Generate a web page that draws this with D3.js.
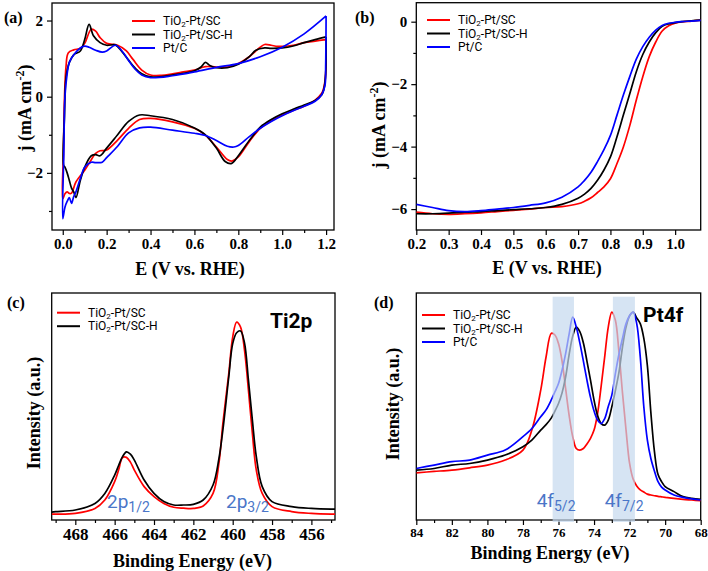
<!DOCTYPE html>
<html>
<head>
<meta charset="utf-8">
<script src="https://cdn.jsdelivr.net/npm/d3@7"></script>
<style>
  body { margin: 0; background: #fff; }
  svg { display: block; }
  .tick text { font-family: "Liberation Serif", "Times New Roman", serif; font-weight: bold; fill: #000; }
</style>
</head>
<body>
<div id="chart"></div>
<script>
// series names and colours
const seriesNames = ["TiO2-Pt/SC", "TiO2-Pt/SC-H", "Pt/C"];
const seriesColors = ["#ff0000", "#000000", "#0000ff"];

// (a) CV loops, [E, j] in scan order (cathodic 1.2 -> 0, then anodic 0 -> 1.2)
const cvRed = [[1.2,1.5],[1.198,0.6],[1.19,0.25],[1.18,0.09],[1.15,-0.09],[1.1,-0.25],[1.05,-0.36],[1.0,-0.48],[0.95,-0.63],[0.9,-0.83],[0.85,-1.18],[0.8,-1.58],[0.77,-1.69],[0.75,-1.65],[0.7,-1.32],[0.65,-1.01],[0.6,-0.83],[0.5,-0.66],[0.4,-0.57],[0.35,-0.6],[0.3,-0.83],[0.25,-1.14],[0.2,-1.4],[0.17,-1.42],[0.15,-1.49],[0.12,-1.75],[0.1,-1.93],[0.06,-2.24],[0.04,-2.53],[0.03,-2.54],[0.02,-2.5],[0.01,-2.55],[0.0,-2.68],
  [0.003,-1.5],[0.008,0],[0.015,0.8],[0.025,1.15],[0.05,1.23],[0.08,1.27],[0.1,1.4],[0.13,1.77],[0.15,1.72],[0.17,1.55],[0.2,1.4],[0.25,1.35],[0.29,1.2],[0.32,0.98],[0.36,0.7],[0.4,0.57],[0.45,0.56],[0.5,0.6],[0.55,0.65],[0.6,0.7],[0.65,0.79],[0.7,0.78],[0.75,0.78],[0.8,0.87],[0.85,1.05],[0.9,1.3],[0.92,1.37],[0.95,1.35],[0.98,1.32],[1.05,1.35],[1.1,1.42],[1.15,1.46],[1.2,1.5]];
const cvBlack = [[1.2,1.57],[1.198,0.6],[1.19,0.2],[1.18,0.05],[1.15,-0.1],[1.1,-0.22],[1.05,-0.33],[1.0,-0.45],[0.95,-0.6],[0.9,-0.8],[0.85,-1.15],[0.8,-1.55],[0.77,-1.75],[0.74,-1.7],[0.7,-1.35],[0.65,-1.0],[0.6,-0.82],[0.5,-0.6],[0.4,-0.5],[0.35,-0.48],[0.3,-0.65],[0.25,-1.0],[0.2,-1.35],[0.17,-1.55],[0.15,-1.52],[0.13,-1.55],[0.1,-1.85],[0.08,-2.2],[0.06,-2.65],[0.05,-2.5],[0.04,-2.4],[0.03,-2.2],[0.02,-2.0],[0.01,-1.85],[0.004,-1.8],
  [0.008,-0.5],[0.015,0.5],[0.03,0.9],[0.05,1.1],[0.08,1.2],[0.1,1.5],[0.12,1.9],[0.14,1.6],[0.17,1.42],[0.2,1.35],[0.24,1.36],[0.27,1.18],[0.3,0.96],[0.33,0.75],[0.36,0.6],[0.4,0.52],[0.5,0.57],[0.6,0.68],[0.63,0.78],[0.65,0.9],[0.67,0.82],[0.7,0.76],[0.75,0.76],[0.8,0.85],[0.85,1.05],[0.88,1.22],[0.92,1.28],[0.95,1.27],[1.0,1.28],[1.05,1.33],[1.1,1.42],[1.15,1.5],[1.2,1.57]];
const cvBlue = [[1.2,2.12],[1.198,0.8],[1.195,0.3],[1.18,0.05],[1.15,-0.12],[1.1,-0.25],[1.05,-0.37],[1.0,-0.5],[0.95,-0.65],[0.9,-0.83],[0.85,-1.05],[0.8,-1.28],[0.78,-1.32],[0.75,-1.3],[0.7,-1.15],[0.65,-1.02],[0.6,-0.96],[0.5,-0.88],[0.4,-0.8],[0.35,-0.82],[0.3,-0.95],[0.25,-1.3],[0.2,-1.6],[0.18,-1.72],[0.15,-1.73],[0.13,-1.72],[0.1,-1.85],[0.08,-2.15],[0.06,-2.5],[0.05,-2.62],[0.04,-2.8],[0.03,-2.65],[0.02,-2.75],[0.01,-2.9],[0.0,-3.2],
  [0.005,-1.5],[0.01,0],[0.02,0.6],[0.03,0.9],[0.05,1.1],[0.08,1.28],[0.1,1.33],[0.12,1.3],[0.15,1.22],[0.18,1.17],[0.2,1.2],[0.24,1.35],[0.27,1.2],[0.3,0.95],[0.33,0.72],[0.36,0.57],[0.4,0.5],[0.5,0.55],[0.6,0.65],[0.7,0.77],[0.8,0.87],[0.9,1.05],[1.0,1.3],[1.1,1.65],[1.2,2.12]];

// (b) LSV
const lsvE = [0.2,0.25,0.3,0.35,0.4,0.45,0.5,0.55,0.6,0.65,0.7,0.72,0.74,0.76,0.78,0.8,0.82,0.84,0.86,0.88,0.9,0.92,0.94,0.96,0.98,1.0,1.02,1.05,1.08];
const lsvRed = [-6.1,-6.15,-6.17,-6.15,-6.12,-6.08,-6.04,-6.0,-5.95,-5.92,-5.83,-5.75,-5.64,-5.47,-5.29,-5.03,-4.55,-4.01,-3.32,-2.51,-1.76,-1.12,-0.65,-0.3,-0.13,-0.05,-0.01,0.02,0.05];
const lsvBlack = [-6.15,-6.15,-6.13,-6.1,-6.08,-6.05,-6.02,-5.99,-5.95,-5.85,-5.65,-5.52,-5.34,-5.08,-4.75,-4.33,-3.69,-2.99,-2.3,-1.6,-1.05,-0.65,-0.35,-0.15,-0.07,-0.03,0.0,0.03,0.05];
const lsvBlue = [-5.85,-5.95,-6.05,-6.08,-6.05,-6.0,-5.95,-5.88,-5.8,-5.62,-5.29,-5.08,-4.82,-4.48,-4.1,-3.64,-3.0,-2.35,-1.75,-1.2,-0.8,-0.5,-0.27,-0.12,-0.05,-0.02,0.0,0.02,0.04];

// (c) Ti2p XPS (intensity in arbitrary units)
const tiBE = [469.2,469,468,467,466.5,466,465.8,465.6,465.4,465.2,465,464.5,464,463.5,463,462.5,462,461.5,461,460.7,460.5,460.2,460,459.8,459.6,459.4,459.2,459,458.8,458.5,458,457,456,455,454.8];
const tiRed = [2.6,2.6,2.9,5.1,8.8,16.9,22,27.5,27.6,25.5,22,14.7,10.3,7.3,5.6,5.2,5.1,6.2,11.7,25,42.5,64.5,80.6,87.2,85,74.8,57.2,38.1,22,11.7,5.9,3.7,2.9,2.6,2.6];
const tiBlack = [3.5,3.7,4.4,7.3,11.7,19.8,24,27.9,30,29,26.4,17.6,11.7,8.1,6.6,6.6,6.9,8.8,15.4,27,39.6,63,77.7,82.5,83.3,78,61.6,44,27.9,14.7,8.1,5.9,5.1,4.8,4.8];

// (d) Pt4f XPS
const ptBE = [84,83,82,81,80,79,78,77.5,77,76.7,76.4,76.2,76,75.8,75.6,75.4,75.2,75,74.8,74.6,74.4,74.2,74,73.8,73.6,73.4,73.2,73,72.8,72.6,72.4,72.2,72,71.8,71.6,71.4,71.2,71,70.8,70.6,70.4,70.2,70,69.5,69,68.5,68];
const ptRed = [20.8,21.4,22,23,24.2,26.4,30.8,39.6,57.2,71.8,82.3,81.5,77.7,70,58,46,36.7,31.5,30.8,31.5,33.5,36,39.6,47,59,72,85,91.6,88,74,56,39.6,24.9,18,15,13.3,12.3,11.4,11,10.7,10.4,10.2,10,9.5,9.1,8.8,8.5];
const ptBlack = [22,22.7,24.2,24.9,26.4,28.6,32.3,35.2,39.6,42,45,48,51.3,56,63,73,81,85,83,78,70,61.6,52.8,46,42.5,41.8,44,49.9,57,65,76.2,85,90,91.6,89,86.5,80,68,47,30,20,16.9,14.7,12.5,10.3,9.5,9.1];
const ptBlue = [22.7,24.2,25.7,26.4,28.6,30.8,36.7,40.3,45.5,48.5,53,56.5,60.1,66,73.3,82,89.4,85,78,70,61.6,54,48,44,42.5,44.7,50,55,64.5,73,80,86.5,90,91.6,86.5,71.8,49.9,35.2,27,21.5,16.9,14.5,13.2,11,10,9.3,8.8];
const ptBands = [[76.33,75.13],[72.94,71.7]];

const svg = d3.select("#chart").append("svg")
  .attr("width", 708).attr("height", 571)
  .style("background", "#fff");

const serif = "'Liberation Serif','Times New Roman',serif";
const sans = "Roboto,'Liberation Sans',sans-serif";

// frame + axes for one panel
function drawAxes(x, y, o) {
  const g = svg.append("g");
  const [x0, x1] = x.range(), [y0, y1] = y.range();
  const bx = g.append("g").attr("transform", `translate(0,${y0})`)
    .call(d3.axisBottom(x).tickValues(o.xTicks).tickFormat(o.xFmt).tickSize(5).tickSizeOuter(0).tickPadding(3));
  bx.selectAll("text").style("font-size", o.xFont + "px");
  if (o.xMinor) g.append("g").attr("transform", `translate(0,${y0})`)
    .call(d3.axisBottom(x).tickValues(o.xMinor).tickFormat("").tickSize(3).tickSizeOuter(0));
  if (o.yTicks) {
    const ly = g.append("g").attr("transform", `translate(${x0},0)`)
      .call(d3.axisLeft(y).tickValues(o.yTicks).tickFormat(d3.format("d")).tickSize(5).tickSizeOuter(0).tickPadding(4));
    ly.selectAll("text").style("font-size", "15px");
  }
  if (o.yMinor) g.append("g").attr("transform", `translate(${x0},0)`)
    .call(d3.axisLeft(y).tickValues(o.yMinor).tickFormat("").tickSize(3).tickSizeOuter(0));
  g.selectAll(".domain").remove();
  g.selectAll(".tick line").attr("stroke", "#000").attr("stroke-width", 1.2);
  g.append("rect").attr("x", x0).attr("y", y1).attr("width", x1 - x0).attr("height", y0 - y1)
    .attr("fill", "none").attr("stroke", "#000").attr("stroke-width", 1.3);
  return g;
}

function axisTitle(cx, cy, rotate, size) {
  return svg.append("text")
    .attr("transform", `translate(${cx},${cy})` + (rotate ? " rotate(-90)" : ""))
    .attr("text-anchor", "middle")
    .attr("font-family", serif).attr("font-weight", "bold").attr("font-size", size);
}

function jTitle(cx, cy) {
  const t = axisTitle(cx, cy, true, 18);
  t.append("tspan").text("j (mA cm");
  t.append("tspan").attr("dy", -7).attr("font-size", 12).text("-2");
  t.append("tspan").attr("dy", 7).text(")");
}

function panelLabel(text, x, y) {
  svg.append("text").attr("x", x).attr("y", y)
    .attr("font-family", serif).attr("font-weight", "bold").attr("font-size", 16).text(text);
}

function legend(x, y, n) {
  const g = svg.append("g").attr("transform", `translate(${x},${y})`);
  seriesNames.slice(0, n).forEach((name, i) => {
    const row = g.append("g").attr("transform", `translate(0,${i * 13.5})`);
    row.append("line").attr("x1", 0).attr("x2", 23).attr("stroke", seriesColors[i]).attr("stroke-width", 2);
    const t = row.append("text").attr("x", 31).attr("y", 4)
      .attr("font-family", sans).attr("font-size", 12);
    if (name.startsWith("TiO2")) {
      t.append("tspan").text("TiO");
      t.append("tspan").attr("font-size", 8).attr("dy", 2).text("2");
      t.append("tspan").attr("dy", -2).text(name.slice(4));
    } else t.text(name);
  });
}

function clipFor(id, x, y) {
  svg.append("clipPath").attr("id", id).append("rect")
    .attr("x", x.range()[0]).attr("y", y.range()[1])
    .attr("width", x.range()[1] - x.range()[0]).attr("height", y.range()[0] - y.range()[1]);
  return `url(#${id})`;
}

function drawLine(data, x, y, color, clip) {
  svg.append("path").datum(data)
    .attr("clip-path", clip)
    .attr("fill", "none").attr("stroke", color).attr("stroke-width", 1.7)
    .attr("stroke-linejoin", "round")
    .attr("d", d3.line().x(d => x(d[0])).y(d => y(d[1])).curve(d3.curveCatmullRom.alpha(0.5)));
}

function peakLabels(list, yPos) {
  list.forEach(([a, b, px]) => {
    const t = svg.append("text").attr("x", px).attr("y", yPos)
      .attr("font-family", sans).attr("font-size", 19).attr("fill", "#4a76c8");
    t.append("tspan").text(a);
    t.append("tspan").attr("dy", 4).attr("font-size", 14).text(b);
  });
}

// ---------- (a) CV ----------
{
  const x = d3.scaleLinear().domain([-0.049, 1.236]).range([52, 334]);
  const y = d3.scaleLinear().domain([-3.5, 2.46]).range([230, 3]);
  drawAxes(x, y, {
    xTicks: [0, 0.2, 0.4, 0.6, 0.8, 1.0, 1.2], xFmt: d3.format(".1f"), xFont: 15,
    xMinor: [0.1, 0.3, 0.5, 0.7, 0.9, 1.1],
    yTicks: [-2, 0, 2], yMinor: [-3, -1, 1]
  });
  const clip = clipFor("clipA", x, y);
  [cvRed, cvBlack, cvBlue].forEach((s, i) => drawLine(s, x, y, seriesColors[i], clip));
  legend(132, 21, 3);
  axisTitle(190, 275, false, 18).text("E (V vs. RHE)");
  jTitle(31, 108);
  panelLabel("(a)", 4, 23);
}

// ---------- (b) LSV ----------
{
  const x = d3.scaleLinear().domain([0.2, 1.079]).range([416.3, 700.7]);
  const y = d3.scaleLinear().domain([-6.67, 0.608]).range([230, 2.7]);
  drawAxes(x, y, {
    xTicks: d3.range(2, 11).map(d => d / 10), xFmt: d3.format(".1f"), xFont: 15,
    yTicks: [0, -2, -4, -6], yMinor: [-1, -3, -5]
  });
  const clip = clipFor("clipB", x, y);
  [lsvRed, lsvBlack, lsvBlue].forEach((s, i) =>
    drawLine(lsvE.map((e, k) => [e, s[k]]), x, y, seriesColors[i], clip));
  legend(427, 20, 3);
  axisTitle(547, 274, false, 18).text("E (V vs. RHE)");
  jTitle(385, 125);
  panelLabel("(b)", 355, 23);
}

// ---------- (c) Ti2p ----------
{
  const x = d3.scaleLinear().domain([469.2, 454.8]).range([51.7, 335]);
  const y = d3.scaleLinear().domain([0, 100]).range([520, 293]);
  drawAxes(x, y, {
    xTicks: d3.range(468, 455, -2), xFmt: d3.format("d"), xFont: 17,
    xMinor: d3.range(469, 454, -2)
  });
  const clip = clipFor("clipC", x, y);
  [tiRed, tiBlack].forEach((s, i) =>
    drawLine(tiBE.map((e, k) => [e, s[k]]), x, y, seriesColors[i], clip));
  legend(57, 312.7, 2);
  axisTitle(192.5, 567, false, 18).text("Binding Energy (eV)");
  axisTitle(40, 413, true, 18).text("Intensity (a.u.)");
  panelLabel("(c)", 7, 308);
  svg.append("text").attr("x", 270).attr("y", 328)
    .attr("font-family", sans).attr("font-weight", "bold").attr("font-size", 21).text("Ti2p");
  peakLabels([["2p", "1/2", 107], ["2p", "3/2", 226]], 508);
}

// ---------- (d) Pt4f ----------
{
  const x = d3.scaleLinear().domain([84, 68]).range([416.3, 700.7]);
  const y = d3.scaleLinear().domain([0, 100]).range([520, 293]);
  drawAxes(x, y, {
    xTicks: d3.range(84, 67, -2), xFmt: d3.format("d"), xFont: 13,
    xMinor: d3.range(83, 68, -2)
  });
  const clip = clipFor("clipD", x, y);
  [ptRed, ptBlack, ptBlue].forEach((s, i) =>
    drawLine(ptBE.map((e, k) => [e, s[k]]), x, y, seriesColors[i], clip));
  svg.append("g").selectAll("rect").data(ptBands).join("rect")
    .attr("x", d => x(d[0])).attr("width", d => x(d[1]) - x(d[0]))
    .attr("y", 296.7).attr("height", 522 - 296.7)
    .attr("fill", "#c4d8ee").attr("opacity", 0.7);
  legend(422, 315, 3);
  axisTitle(550, 559, false, 18).text("Binding Energy (eV)");
  axisTitle(399, 404, true, 18).text("Intensity (a.u.)");
  panelLabel("(d)", 374, 308);
  svg.append("text").attr("x", 643).attr("y", 322)
    .attr("font-family", sans).attr("font-weight", "bold").attr("font-size", 21).text("Pt4f");
  peakLabels([["4f", "5/2", 536.7], ["4f", "7/2", 604.7]], 507);
}
</script>
</body>
</html>
